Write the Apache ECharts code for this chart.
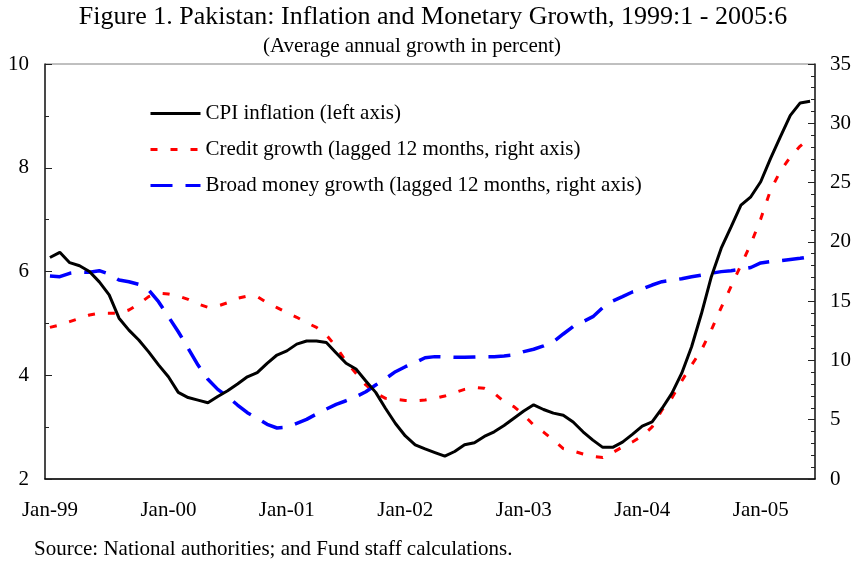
<!DOCTYPE html>
<html>
<head>
<meta charset="utf-8">
<script src="https://cdn.jsdelivr.net/npm/echarts@6/dist/echarts.min.js"></script>
<style>
  html, body { margin: 0; padding: 0; background: #fff; }
  #chart { width: 854px; height: 561px; }
</style>
</head>
<body>
<div id="chart"></div>
<script>
// months Jan-99 .. Jun-05
const monthNames = ['Jan', 'Feb', 'Mar', 'Apr', 'May', 'Jun', 'Jul', 'Aug', 'Sep', 'Oct', 'Nov', 'Dec']
const years = ['99', '00', '01', '02', '03', '04', '05']
const categories = []
years.forEach(y => monthNames.forEach(m => categories.push(m + '-' + y)))
categories.length = 78

// CPI inflation, left axis
const cpi = [
  6.27, 6.37, 6.17, 6.11, 6.00, 5.80, 5.55, 5.10, 4.87, 4.68, 4.45, 4.20,
  3.97, 3.67, 3.57, 3.52, 3.47, 3.59, 3.70, 3.83, 3.97, 4.05, 4.23, 4.39,
  4.47, 4.60, 4.66, 4.66, 4.63, 4.43, 4.23, 4.12, 3.89, 3.67, 3.36, 3.07,
  2.83, 2.66, 2.58, 2.51, 2.44, 2.53, 2.66, 2.70, 2.82, 2.91, 3.03, 3.17,
  3.31, 3.43, 3.34, 3.27, 3.23, 3.10, 2.91, 2.75, 2.61, 2.61, 2.71, 2.86,
  3.02, 3.10, 3.36, 3.65, 4.04, 4.55, 5.19, 5.90, 6.45, 6.86, 7.28, 7.44,
  7.73, 8.18, 8.60, 9.01, 9.25, 9.28
]

// credit growth, lagged 12 months, right axis
const credit = [
  12.79, 12.99, 13.27, 13.55, 13.83, 13.97, 13.97, 13.97, 14.25, 14.76, 15.38, 15.66,
  15.60, 15.43, 15.15, 14.76, 14.48, 14.59, 14.87, 15.24, 15.43, 15.38, 14.87, 14.45,
  14.03, 13.64, 13.18, 12.79, 12.14, 11.16, 9.89, 8.91, 7.93, 7.23, 6.80, 6.72,
  6.63, 6.60, 6.66, 6.80, 7.00, 7.28, 7.56, 7.73, 7.65, 7.23, 6.52, 6.10,
  5.40, 4.55, 3.96, 3.29, 2.57, 2.36, 2.11, 1.90, 1.81, 2.23, 2.70, 3.12,
  3.63, 4.39, 5.82, 6.83, 8.27, 9.61, 10.88, 12.57, 14.46, 16.24, 18.05, 19.82,
  21.93, 24.37, 25.98, 27.16, 28.08, 28.76
]

// broad money growth, lagged 12 months, right axis
const broadMoney = [
  17.12, 17.06, 17.35, 17.46, 17.43, 17.57, 17.29, 16.78, 16.64, 16.42, 15.94, 14.95,
  13.69, 12.42, 11.02, 9.61, 8.41, 7.56, 6.94, 6.24, 5.59, 5.12, 4.61, 4.30,
  4.36, 4.70, 5.03, 5.48, 5.90, 6.30, 6.60, 6.94, 7.36, 7.93, 8.46, 9.05,
  9.47, 9.81, 10.23, 10.32, 10.29, 10.26, 10.26, 10.29, 10.32, 10.32, 10.37, 10.46,
  10.74, 10.94, 11.22, 11.58, 12.23, 12.85, 13.27, 13.69, 14.45, 15.01, 15.38, 15.77,
  16.02, 16.36, 16.64, 16.76, 16.89, 17.06, 17.20, 17.35, 17.49, 17.57, 17.69, 17.84,
  18.22, 18.33, 18.41, 18.51, 18.61, 18.75
]

const seriesNames = [
  'CPI inflation (left axis)',
  'Credit growth (lagged 12 months, right axis)',
  'Broad money growth (lagged 12 months, right axis)'
]

const serif = 'Liberation Serif, Times New Roman, serif'
const chart = echarts.init(document.getElementById('chart'))

const option = {
  animation: false,
  backgroundColor: '#fff',
  title: [
    {
      text: 'Figure 1. Pakistan: Inflation and Monetary Growth, 1999:1 - 2005:6',
      left: 433,
      top: 4,
      padding: 0,
      textAlign: 'center',
      textStyle: { fontFamily: serif, fontSize: 26, fontWeight: 'normal', color: '#000' }
    },
    {
      text: '(Average annual growth in percent)',
      left: 412,
      top: 36,
      padding: 0,
      textAlign: 'center',
      textStyle: { fontFamily: serif, fontSize: 21, fontWeight: 'normal', color: '#000' }
    },
    {
      text: 'Source: National authorities; and Fund staff calculations.',
      left: 34,
      top: 539,
      padding: 0,
      textStyle: { fontFamily: serif, fontSize: 21, fontWeight: 'normal', color: '#000' }
    }
  ],
  legend: {
    data: seriesNames,
    orient: 'vertical',
    left: 149,
    top: 103,
    padding: 0,
    itemWidth: 50,
    itemHeight: 14,
    itemGap: 15,
    itemStyle: { opacity: 0 },
    lineStyle: { width: 3 },
    textStyle: { fontFamily: serif, fontSize: 21, color: '#000' }
  },
  grid: {
    left: 45,
    right: 37,
    top: 64,
    bottom: 82,
    show: true,
    borderColor: '#808080',
    borderWidth: 1
  },
  xAxis: {
    type: 'category',
    data: categories,
    boundaryGap: true,
    axisLine: { lineStyle: { color: '#000', width: 1.5 } },
    axisTick: { interval: 5, length: 5, lineStyle: { color: '#000' } },
    axisLabel: {
      interval: 11,
      margin: 21,
      fontFamily: serif,
      fontSize: 21,
      color: '#000'
    },
    splitLine: { show: false }
  },
  yAxis: [
    {
      type: 'value',
      min: 2,
      max: 10,
      interval: 2,
      position: 'left',
      axisLine: { show: true, lineStyle: { color: '#222', width: 1.5 } },
      axisTick: { show: true, inside: true, length: 7, lineStyle: { color: '#222' } },
      minorTick: { show: true, splitNumber: 2, length: 4, lineStyle: { color: '#222' } },
      axisLabel: { margin: 16, fontFamily: serif, fontSize: 21, color: '#000' },
      splitLine: { show: false }
    },
    {
      type: 'value',
      min: 0,
      max: 35,
      interval: 5,
      position: 'right',
      axisLine: { show: true, lineStyle: { color: '#222', width: 1.5 } },
      axisTick: { show: true, inside: true, length: 7, lineStyle: { color: '#222' } },
      minorTick: { show: true, splitNumber: 5, length: 4, lineStyle: { color: '#222' } },
      axisLabel: { margin: 15, fontFamily: serif, fontSize: 21, color: '#000' },
      splitLine: { show: false }
    }
  ],
  series: [
    {
      name: seriesNames[1],
      type: 'line',
      yAxisIndex: 1,
      data: credit,
      symbol: 'none',
      z: 2,
      itemStyle: { color: '#ff0000' },
      lineStyle: { color: '#ff0000', width: 3, type: [7, 13] }
    },
    {
      name: seriesNames[2],
      type: 'line',
      yAxisIndex: 1,
      data: broadMoney,
      symbol: 'none',
      z: 2,
      itemStyle: { color: '#0000ff' },
      lineStyle: { color: '#0000ff', width: 3.5, type: [22, 13] }
    },
    {
      name: seriesNames[0],
      type: 'line',
      yAxisIndex: 0,
      data: cpi,
      symbol: 'none',
      z: 3,
      itemStyle: { color: '#000' },
      lineStyle: { color: '#000', width: 3 }
    }
  ]
}

chart.setOption(option)
</script>
</body>
</html>
